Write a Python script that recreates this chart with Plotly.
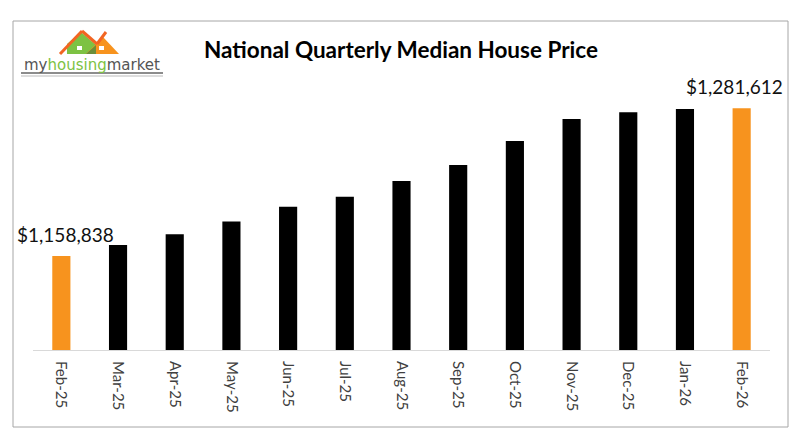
import plotly.graph_objects as go

months = ["Feb-25", "Mar-25", "Apr-25", "May-25", "Jun-25", "Jul-25", "Aug-25",
          "Sep-25", "Oct-25", "Nov-25", "Dec-25", "Jan-26", "Feb-26"]
median_price = [1158838, 1168000, 1177000, 1187500, 1199800, 1208100, 1221200,
                1234500, 1254400, 1272700, 1278300, 1281000, 1281612]
highlight = [True, False, False, False, False, False, False,
             False, False, False, False, False, True]
label_months = ["Feb-25", "Feb-26"]
label_texts = ["$1,158,838", "$1,281,612"]

ORANGE = "#F7931E"
W, H = 800, 439
# plot area in reference pixels; page body adds an 8px offset
L, R, T, B = 33, 770, 80, 350
SHIFT = 8


def px(x, y):
    return (x - L) / (R - L), (B - y) / (B - T)


def path(points):
    parts = []
    for i, (x, y) in enumerate(points):
        u, v = px(x, y)
        parts.append(("M" if i == 0 else "L") + f"{u:.4f},{v:.4f}")
    return " ".join(parts) + " Z"


colors = [ORANGE if h else "black" for h in highlight]

fig = go.Figure(go.Bar(
    x=months, y=median_price, marker=dict(color=colors, line=dict(width=0)),
    width=0.32, hoverinfo="x+y",
))

# small nudges so the labels sit where the original puts them
label_xshift = [4, -7]
for m, t, dx in zip(label_months, label_texts, label_xshift):
    fig.add_annotation(x=m, y=median_price[months.index(m)], text=t, showarrow=False,
                       yanchor="bottom", yshift=8, xshift=dx,
                       font=dict(family="Lato, Carlito, sans-serif", size=19, color="#111111"))

shapes = []
x0, y0 = px(13, 427)
x1, y1 = px(788, 21)
shapes.append(dict(type="rect", xref="paper", yref="paper", x0=x0, y0=y0, x1=x1, y1=y1,
                   line=dict(color="#a6a6a6", width=1)))
# logo houses
shapes.append(dict(type="path", xref="paper", yref="paper",
                   path=path([(67, 54), (67, 44), (81, 32), (96, 45), (96, 54)]),
                   fillcolor="#7dc243", line=dict(width=0)))
shapes.append(dict(type="path", xref="paper", yref="paper",
                   path=path([(86, 54), (103, 37), (119, 54)]),
                   fillcolor="#f7931e", line=dict(width=0)))
shapes.append(dict(type="path", xref="paper", yref="paper",
                   path=path([(86, 54), (96, 45), (96, 54)]),
                   fillcolor="#6b8e3a", line=dict(width=0)))
for wx, wy in [(77, 46), (99, 46)]:
    a, b = px(wx, wy + 4)
    c, d = px(wx + 5, wy)
    shapes.append(dict(type="rect", xref="paper", yref="paper", x0=a, y0=b, x1=c, y1=d,
                       fillcolor="white", line=dict(width=0)))
roof = [(60, 54), (82, 31), (97, 44), (106, 32)]
for (ax, ay), (bx, by) in zip(roof[:-1], roof[1:]):
    u0, v0 = px(ax, ay)
    u1, v1 = px(bx, by)
    shapes.append(dict(type="line", xref="paper", yref="paper", x0=u0, y0=v0, x1=u1, y1=v1,
                       line=dict(color="#f26522", width=3)))
for ly, lw, col in [(73, 1.5, "#666666"), (76, 1, "#bbbbbb")]:
    u0, v0 = px(21, ly)
    u1, v1 = px(163, ly)
    shapes.append(dict(type="line", xref="paper", yref="paper", x0=u0, y0=v0, x1=u1, y1=v1,
                       line=dict(color=col, width=lw)))

lx, ly = px(92, 65)
fig.add_annotation(xref="paper", yref="paper", x=lx, y=ly, showarrow=False,
                   xanchor="center", yanchor="middle",
                   text="<span style='color:#555555'>my</span>"
                        "<span style='color:#7dc243'>housing</span>"
                        "<span style='color:#555555'>market</span>",
                   font=dict(family="DejaVu Sans, sans-serif", size=15))

tx, ty = px(401, 50)
fig.add_annotation(xref="paper", yref="paper", x=tx, y=ty, showarrow=False,
                   xanchor="center", yanchor="middle",
                   text="<b>National Quarterly Median House Price</b>",
                   font=dict(family="Lato, Carlito, sans-serif", size=22.5, color="black"))

fig.update_layout(
    width=W, height=H,
    margin=dict(l=L - SHIFT, r=W - R + SHIFT, t=T - SHIFT, b=H - B + SHIFT, autoexpand=False),
    paper_bgcolor="white", plot_bgcolor="white", showlegend=False,
    bargap=0.68, shapes=shapes,
    xaxis=dict(type="category", range=[-0.5, len(months) - 0.5], tickangle=90,
               showline=True, linecolor="#d9d9d9", ticklabelstandoff=7,
               linewidth=1, ticks="", showgrid=False, automargin=False,
               tickfont=dict(family="Lato, Carlito, sans-serif", size=15, color="#404040")),
    yaxis=dict(range=[1080700, 1305100], visible=False, showgrid=False, zeroline=False,
               automargin=False),
)

fig.write_html("out.html")
